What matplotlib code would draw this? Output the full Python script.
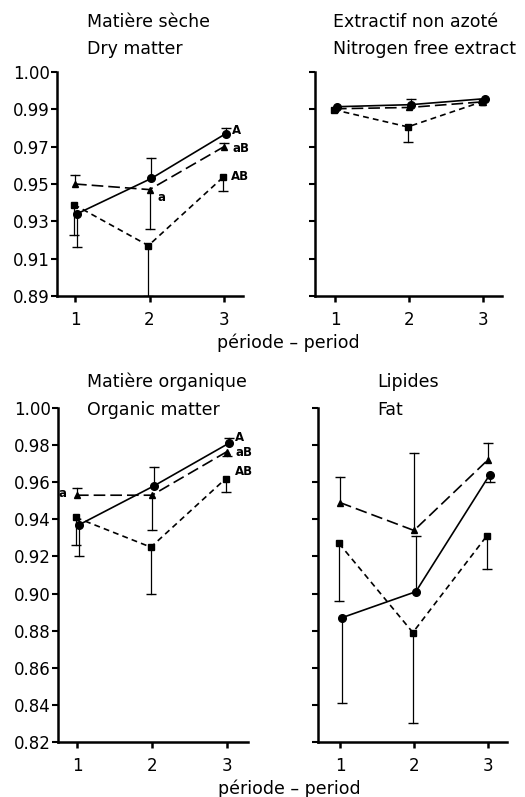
import matplotlib
matplotlib.use("Agg")
import matplotlib.pyplot as plt
import numpy as np

# periods
periods = [1, 2, 3]

# Dry matter (matière sèche)
dm_circle = [0.934, 0.953, 0.977]
dm_circle_lo = [0.018, 0.0, 0.0]
dm_circle_hi = [0.0, 0.011, 0.003]
dm_tri = [0.950, 0.947, 0.970]
dm_tri_lo = [0.0, 0.021, 0.0]
dm_tri_hi = [0.005, 0.0, 0.002]
dm_sq = [0.939, 0.917, 0.9535]
dm_sq_lo = [0.0165, 0.027, 0.0075]
dm_sq_hi = [0.0, 0.0, 0.0]

# Nitrogen free extract
nfe_circle = [0.9914, 0.9925, 0.9957]
nfe_circle_lo = [0.0, 0.0, 0.0]
nfe_circle_hi = [0.0, 0.0032, 0.0]
nfe_tri = [0.9903, 0.991, 0.994]
nfe_tri_lo = [0.0, 0.0, 0.0]
nfe_tri_hi = [0.0, 0.0, 0.0]
nfe_sq = [0.9898, 0.9806, 0.994]
nfe_sq_lo = [0.0, 0.008, 0.0]
nfe_sq_hi = [0.0, 0.0, 0.0]

# Organic matter
om_circle = [0.937, 0.958, 0.981]
om_circle_lo = [0.017, 0.0, 0.0]
om_circle_hi = [0.0, 0.010, 0.003]
om_tri = [0.953, 0.953, 0.9765]
om_tri_lo = [0.0, 0.019, 0.0025]
om_tri_hi = [0.004, 0.0, 0.0]
om_sq = [0.941, 0.925, 0.962]
om_sq_lo = [0.015, 0.025, 0.007]
om_sq_hi = [0.0, 0.0, 0.0]

# Fat (lipides)
fat_circle = [0.887, 0.901, 0.964]
fat_circle_lo = [0.046, 0.0, 0.004]
fat_circle_hi = [0.0, 0.030, 0.0]
fat_tri = [0.949, 0.934, 0.972]
fat_tri_lo = [0.0, 0.0, 0.0]
fat_tri_hi = [0.014, 0.042, 0.009]
fat_sq = [0.927, 0.879, 0.931]
fat_sq_lo = [0.031, 0.049, 0.018]
fat_sq_hi = [0.0, 0.0, 0.0]

top_ticks = [1.01, 0.99, 0.97, 0.95, 0.93, 0.91, 0.89]
top_labels = ["1.00", "0.99", "0.97", "0.95", "0.93", "0.91", "0.89"]
bot_ticks = [1.00, 0.98, 0.96, 0.94, 0.92, 0.90, 0.88, 0.86, 0.84, 0.82]
bot_labels = ["1.00", "0.98", "0.96", "0.94", "0.92", "0.90", "0.88", "0.86", "0.84", "0.82"]

plt.rcParams['font.family'] = ['DejaVu Sans']

W, H = 525, 797

# series style: marker, dashes, x offset
styles = {
    'circle': dict(marker='o', ms=5.5, dashes=None, dx=0.025),
    'tri': dict(marker='^', ms=5, dashes=(7, 3), dx=0.0),
    'sq': dict(marker='s', ms=4.5, dashes=(3.5, 2.5), dx=-0.015),
}


def draw_series(ax, kind, vals, lo, hi):
    st = styles[kind]
    x = np.array(periods) + st['dx']
    line, = ax.plot(x, vals, color='black', lw=1.2, marker=st['marker'],
                    ms=st['ms'], mfc='black', mec='black', clip_on=False, zorder=3)
    if st['dashes']:
        line.set_dashes(st['dashes'])
    # one-sided error bars, cap only at the far end
    for xi, v, l, h in zip(x, vals, lo, hi):
        for end in (v - l, v + h):
            if end != v:
                ax.plot([xi, xi], [v, end], color='black', lw=0.9, zorder=2)
                ax.plot([xi], [end], color='black', marker='_', ms=7, mew=1.0, zorder=2)


def style_axes(ax, xlim, ylim, ticks, labels, show_labels):
    ax.set_xlim(*xlim)
    ax.set_ylim(*ylim)
    for s in ['top', 'right']:
        ax.spines[s].set_visible(False)
    ax.spines['left'].set_linewidth(1.8)
    ax.spines['bottom'].set_linewidth(1.8)
    ax.set_xticks(periods)
    ax.set_xticklabels(['1', '2', '3'], fontsize=12)
    ax.set_yticks(ticks)
    if show_labels:
        ax.set_yticklabels(labels, fontsize=12)
    else:
        ax.set_yticklabels([])
    ax.tick_params(axis='x', direction='out', length=4, width=1.8, pad=7)
    ax.tick_params(axis='y', direction='out', length=4, width=1.5, pad=1)


def rect(x0, x1, y0, y1):
    return [x0 / W, 1 - y1 / H, (x1 - x0) / W, (y1 - y0) / H]


fig = plt.figure(figsize=(W / 100, H / 100), dpi=100)

ax_dm = fig.add_axes(rect(57, 243, 72, 296))
ax_nfe = fig.add_axes(rect(315, 502, 72, 296))
ax_om = fig.add_axes(rect(58, 248, 408, 742))
ax_fat = fig.add_axes(rect(318, 507, 408, 742))

draw_series(ax_dm, 'circle', dm_circle, dm_circle_lo, dm_circle_hi)
draw_series(ax_dm, 'tri', dm_tri, dm_tri_lo, dm_tri_hi)
draw_series(ax_dm, 'sq', dm_sq, dm_sq_lo, dm_sq_hi)
style_axes(ax_dm, (0.758, 3.255), (0.89, 1.01), top_ticks, top_labels, True)

draw_series(ax_nfe, 'circle', nfe_circle, nfe_circle_lo, nfe_circle_hi)
draw_series(ax_nfe, 'tri', nfe_tri, nfe_tri_lo, nfe_tri_hi)
draw_series(ax_nfe, 'sq', nfe_sq, nfe_sq_lo, nfe_sq_hi)
style_axes(ax_nfe, (0.73, 3.26), (0.89, 1.01), top_ticks, top_labels, False)

draw_series(ax_om, 'circle', om_circle, om_circle_lo, om_circle_hi)
draw_series(ax_om, 'tri', om_tri, om_tri_lo, om_tri_hi)
draw_series(ax_om, 'sq', om_sq, om_sq_lo, om_sq_hi)
style_axes(ax_om, (0.747, 3.28), (0.82, 1.00), bot_ticks, bot_labels, True)

draw_series(ax_fat, 'circle', fat_circle, fat_circle_lo, fat_circle_hi)
draw_series(ax_fat, 'tri', fat_tri, fat_tri_lo, fat_tri_hi)
draw_series(ax_fat, 'sq', fat_sq, fat_sq_lo, fat_sq_hi)
style_axes(ax_fat, (0.70, 3.26), (0.82, 1.00), bot_ticks, bot_labels, False)

# significance letters
lkw = dict(textcoords='offset points', fontsize=8.5, fontweight='bold', va='center')
ax_dm.annotate('A', (3, dm_circle[2]), xytext=(6, 2), **lkw)
ax_dm.annotate('aB', (3, dm_tri[2]), xytext=(6, -1), **lkw)
ax_dm.annotate('AB', (3, dm_sq[2]), xytext=(5, 1), **lkw)
ax_dm.annotate('a', (2, dm_tri[1]), xytext=(6, -6), **lkw)
ax_om.annotate('A', (3, om_circle[2]), xytext=(6, 4), **lkw)
ax_om.annotate('aB', (3, om_tri[2]), xytext=(6, -1), **lkw)
ax_om.annotate('AB', (3, om_sq[2]), xytext=(6, 5), **lkw)
ax_om.annotate('a', (1, om_tri[0]), xytext=(-13, 1), **lkw)

# panel titles (left aligned)
tkw = dict(ha='left', va='center', fontsize=12.5)
fig.text(87 / W, 1 - 22 / H, 'Matière sèche', **tkw)
fig.text(87 / W, 1 - 49 / H, 'Dry matter', **tkw)
fig.text(333 / W, 1 - 22 / H, 'Extractif non azoté', **tkw)
fig.text(333 / W, 1 - 49 / H, 'Nitrogen free extract', **tkw)
fig.text(87 / W, 1 - 382 / H, 'Matière organique', **tkw)
fig.text(87 / W, 1 - 410 / H, 'Organic matter', **tkw)
fig.text(377 / W, 1 - 382 / H, 'Lipides', **tkw)
fig.text(377 / W, 1 - 410 / H, 'Fat', **tkw)

xkw = dict(ha='center', va='center', fontsize=12.5)
fig.text(288 / W, 1 - 343 / H, 'période – period', **xkw)
fig.text(289 / W, 1 - 789 / H, 'période – period', **xkw)

fig.savefig('out.png', dpi=100)
